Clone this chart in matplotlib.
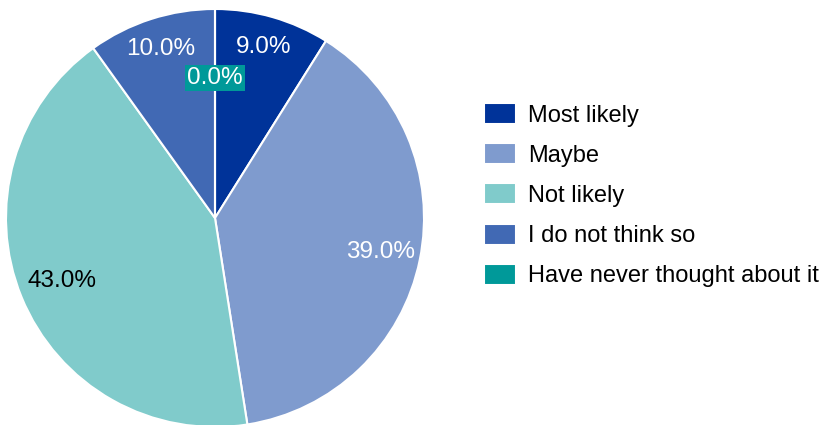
import numpy as np
import matplotlib
matplotlib.use("Agg")
import matplotlib.pyplot as plt

# Data
categories = ["Most likely", "Maybe", "Not likely", "I do not think so",
              "Have never thought about it"]
values = [9.0, 39.0, 43.0, 10.0, 0.0]
colors = ["#003399", "#7F9BCE", "#80CBCB", "#4169B4", "#009999"]
label_colors = ["white", "white", "black", "white", "white"]
label_dist = [0.85, 0.81, 0.79, 0.85, 0.67]

plt.rcParams["font.family"] = ["Liberation Sans", "DejaVu Sans"]

W, H = 824, 425
fig = plt.figure(figsize=(W / 100, H / 100), dpi=100)

# pie axes: centre (215, 218) px, radius 209 px
cx, cy, r = 215, 218, 209
ax = fig.add_axes([(cx - r) / W, (H - cy - r) / H, 2 * r / W, 2 * r / H])

wedges, _ = ax.pie(values, colors=colors, startangle=90, counterclock=False,
                   wedgeprops=dict(edgecolor="white", linewidth=1.5),
                   radius=1.0)
ax.set_xlim(-1, 1)
ax.set_ylim(-1, 1)
ax.set_aspect("equal")
ax.axis("off")

for w, v, c, d in zip(wedges, values, label_colors, label_dist):
    ang = np.deg2rad((w.theta1 + w.theta2) / 2)
    x, y = d * np.cos(ang), d * np.sin(ang)
    kw = {}
    if v == 0:
        kw["bbox"] = dict(facecolor="#009999", edgecolor="none", pad=1.5)
    ax.text(x, y, f"{v:.1f}%", ha="center", va="center", fontsize=17.5,
            color=c, **kw)

fig.legend(wedges, categories, loc="upper left",
           bbox_to_anchor=(484 / W, 1 - 103 / H), frameon=False,
           fontsize=17, handlelength=1.36, handleheight=1.0,
           handletextpad=0.5, labelspacing=0.7, borderaxespad=0,
           borderpad=0)

fig.savefig("out.png", dpi=100)
